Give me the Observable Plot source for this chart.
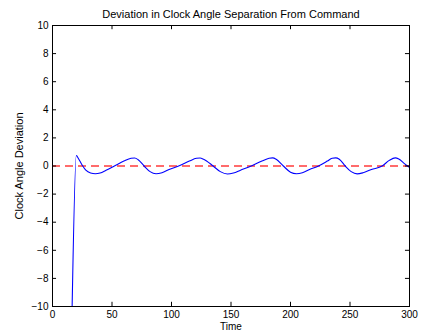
<!DOCTYPE html>
<html>
<head>
<meta charset="utf-8">
<script src="https://cdn.jsdelivr.net/npm/d3@7"></script>
<script src="https://cdn.jsdelivr.net/npm/@observablehq/plot@0.6"></script>
<style>
  html, body { margin: 0; padding: 0; background: white; }
</style>
</head>
<body>
<div id="chart"></div>
<script>
const titleText = "Deviation in Clock Angle Separation From Command";
const xLabel = "Time";
const yLabel = "Clock Angle Deviation";
const xTicks = [0, 50, 100, 150, 200, 250, 300];
const yTicks = [-10, -8, -6, -4, -2, 0, 2, 4, 6, 8, 10];
const commandValue = [0];

const times = [16.5, 20, 22, 25, 28, 32, 36, 40, 45, 52, 60, 66, 69, 72, 77, 82, 87, 92, 98, 106,
  115, 121, 124, 127, 135, 141, 147, 152, 158, 167, 176, 182, 185, 188, 194, 200, 205, 210, 216,
  223.5, 231, 235, 238, 241, 246, 251, 256, 261, 268, 277, 283, 288, 291, 296, 300];
const deviation = [-10, 0.75, 0.5, 0.05, -0.3, -0.5, -0.55, -0.5, -0.3, 0, 0.35, 0.55, 0.57, 0.45, 0, -0.4, -0.55, -0.48, -0.25, 0,
  0.35, 0.55, 0.57, 0.48, 0, -0.4, -0.57, -0.5, -0.3, 0, 0.35, 0.55, 0.58, 0.48, 0, -0.44, -0.55, -0.48, -0.25,
  0, 0.35, 0.55, 0.58, 0.48, 0, -0.4, -0.56, -0.48, -0.25, 0, 0.4, 0.58, 0.5, 0.15, -0.1];

const data = times.map((t, i) => ({t, v: deviation[i]}));

const tickLenY = 0.3;   // inward tick length in y units (~4px)
const tickLenX = 3.4;   // inward tick length in x units (~4px)

const chart = Plot.plot({
  width: 422,
  height: 332,
  marginLeft: 52,
  marginRight: 13,
  marginTop: 25,
  marginBottom: 26,
  x: {domain: [0, 300]},
  y: {domain: [-10, 10]},
  style: {fontFamily: "'Liberation Sans', Arial, Helvetica, sans-serif", fontSize: "10px", background: "white", color: "black"},
  marks: [
    Plot.ruleY(commandValue, {stroke: "#ff6b6b", strokeWidth: 2, strokeDasharray: "8,5"}),
    Plot.line(data, {x: "t", y: "v", stroke: "#0000ff", strokeWidth: 1.1, curve: "monotone-x", clip: true}),
    Plot.ruleX(xTicks, {x: d => d, y1: -10, y2: -10 + tickLenY, stroke: "black"}),
    Plot.ruleX(xTicks, {x: d => d, y1: 10, y2: 10 - tickLenY, stroke: "black"}),
    Plot.ruleY(yTicks, {y: d => d, x1: 0, x2: tickLenX, stroke: "black"}),
    Plot.ruleY(yTicks, {y: d => d, x1: 300, x2: 300 - tickLenX, stroke: "black"}),
    Plot.frame({stroke: "black", strokeWidth: 1}),
    Plot.axisX(xTicks, {tickSize: 0, tickPadding: 4, label: null, fontSize: 10}),
    Plot.axisY(yTicks, {tickSize: 0, tickPadding: 4, label: null, fontSize: 10}),
    Plot.text([titleText], {frameAnchor: "top", lineAnchor: "middle", textAnchor: "middle", dy: -11.5, fontSize: 11, text: d => d}),
    Plot.text([xLabel], {frameAnchor: "bottom", lineAnchor: "middle", textAnchor: "middle", dy: 20, fontSize: 10, text: d => d}),
    Plot.text([yLabel], {frameAnchor: "left", lineAnchor: "middle", textAnchor: "middle", dx: -33, rotate: -90, fontSize: 11, text: d => d})
  ]
});
document.getElementById("chart").appendChild(chart);
</script>
</body>
</html>
